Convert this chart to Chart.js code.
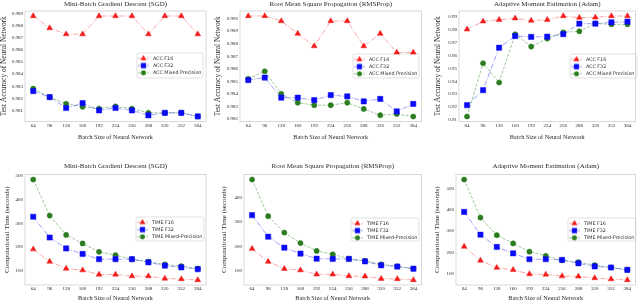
<!DOCTYPE html>
<html><head><meta charset="utf-8">
<script src="https://cdn.jsdelivr.net/npm/chart.js@4.4.1/dist/chart.umd.min.js"></script>
<style>
html,body{margin:0;padding:0;background:#fff;width:640px;height:304px;overflow:hidden}
.p{position:absolute}
</style></head><body>
<script>
// ---------------- DATA ----------------
const batchSizes = ["64","96","128","160","192","224","256","288","320","352","384"];

const sgdAccF16   = [0.9888, 0.9878, 0.9873, 0.9873, 0.9888, 0.9888, 0.9888, 0.9873, 0.9888, 0.9888, 0.9873];
const sgdAccF32   = [0.9826, 0.9821, 0.9812, 0.9816, 0.9810, 0.9812, 0.9810, 0.9806, 0.9808, 0.9808, 0.9805];
const sgdAccMixed = [0.9828, 0.9821, 0.98155, 0.9813, 0.98115, 0.98133, 0.98115, 0.9808, 0.9808, 0.9808, 0.9805];

const rmsAccF16   = [0.9902, 0.9902, 0.9898, 0.9888, 0.9878, 0.9898, 0.9898, 0.9878, 0.9888, 0.9873, 0.9873];
const rmsAccF32   = [0.9851, 0.9853, 0.9837, 0.9837, 0.9835, 0.9839, 0.9838, 0.9834, 0.9836, 0.9826, 0.9832];
const rmsAccMixed = [0.9852, 0.9858, 0.9840, 0.9833, 0.9831, 0.9831, 0.9833, 0.9828, 0.9823, 0.9824, 0.9822];

const adamAccF16   = [0.9804, 0.9866, 0.9879, 0.9890, 0.9872, 0.9879, 0.9908, 0.9895, 0.9897, 0.9908, 0.9908];
const adamAccF32   = [0.9213, 0.9330, 0.9661, 0.9752, 0.9745, 0.9747, 0.9766, 0.9848, 0.9848, 0.9859, 0.9864];
const adamAccMixed = [0.9125, 0.9540, 0.9390, 0.9766, 0.9670, 0.9732, 0.9781, 0.9789, 0.9851, 0.9843, 0.9843];

const sgdTimeF16   = [191, 139, 110, 103, 85, 85, 78, 78, 68, 66, 62];
const sgdTimeF32   = [327, 240, 194, 171, 149, 149, 149, 136, 122, 115, 107];
const sgdTimeMixed = [483, 332, 251, 215, 180, 166, 149, 139, 127, 120, 110];

const rmsTimeF16   = [191, 138, 109, 103, 86, 86, 79, 78, 68, 67, 63];
const rmsTimeF32   = [328, 240, 195, 171, 150, 149, 149, 139, 123, 118, 109];
const rmsTimeMixed = [474, 324, 257, 214, 182, 168, 150, 141, 127, 119, 109];

const adamTimeF16   = [227, 161, 127, 117, 97, 95, 87, 86, 78, 73, 69];
const adamTimeF32   = [391, 283, 225, 195, 167, 167, 164, 148, 133, 128, 117];
const adamTimeMixed = [544, 364, 281, 242, 203, 183, 162, 153, 139, 128, 117];

const sgdAccTicks  = [0.981, 0.982, 0.983, 0.984, 0.985, 0.986, 0.987, 0.988, 0.989];
const rmsAccTicks  = [0.982, 0.983, 0.984, 0.985, 0.986, 0.987, 0.988, 0.989, 0.990];
const adamAccTicks = [0.91, 0.92, 0.93, 0.94, 0.95, 0.96, 0.97, 0.98, 0.99];
const sgdTimeTicks  = [100, 200, 300, 400, 500];
const rmsTimeTicks  = [100, 200, 300, 400];
const adamTimeTicks = [100, 200, 300, 400, 500];

const accLabels  = ["ACC F16", "ACC F32", "ACC Mixed Precision"];
const timeLabels = ["TIME F16", "TIME F32", "TIME Mixed-Precision"];
const titles = ["Mini-Batch Gradient Descent (SGD)", "Root Mean Square Propagation (RMSProp)", "Adaptive Moment Estimation (Adam)"];
const xTitle = "Batch Size of Neural Network";
const accYTitle = "Test Accuracy of Neural Network";
const timeYTitle = "Computational Time (seconds)";

// ---------------- STYLE ----------------
const SERIF = "'Liberation Serif', 'Times New Roman', serif";
const SANS = "'DejaVu Sans', sans-serif";
const TXT = '#2a2a2a';
const seriesStyle = [
  {color: '#f21c1c', line: 'rgba(242,60,60,0.45)', dash: [5,1.5,1,1.5], shape: 'triangle', r: 3.3},
  {color: '#0a0af5', line: 'rgba(40,40,250,0.45)', dash: [5,1.5,1,1.5], shape: 'rect', r: 3.7},
  {color: '#2b7d1f', line: 'rgba(60,150,50,0.5)', dash: [3,1.5], shape: 'circle', r: 2.6}
];

function icon(st) {
  const c = document.createElement('canvas');
  c.width = 11; c.height = 8;
  const g = c.getContext('2d');
  g.strokeStyle = st.line; g.lineWidth = 1; g.setLineDash(st.dash);
  g.beginPath(); g.moveTo(0, 4); g.lineTo(11, 4); g.stroke();
  g.setLineDash([]);
  g.fillStyle = st.color; g.strokeStyle = st.color; g.lineWidth = 0.5;
  Chart.helpers.drawPoint(g, {pointStyle: st.shape, radius: st.r * 0.9, borderWidth: 0.5, rotation: 0}, 5.5, 4);
  return c;
}
const icons = seriesStyle.map(icon);

const framePlugin = {
  id: 'frameAndLegend',
  afterLayout(chart, args, o) {
    const lg = chart.legend, f = o.box;
    if (!lg || !f) return;
    lg.left = f.x - 2.9; lg.top = f.y + 0.6;
    lg.width = 120; lg.height = 60;
    lg.right = lg.left + 120; lg.bottom = lg.top + 60;
  },
  beforeDraw(chart, args, o) {
    const ctx = chart.ctx, f = o.box;
    ctx.save();
    ctx.fillStyle = 'rgba(255,255,255,0.9)';
    ctx.strokeStyle = '#d4d4d4'; ctx.lineWidth = 0.7;
    ctx.beginPath();
    ctx.roundRect(f.x, f.y, f.w, f.h, 1.5);
    ctx.fill(); ctx.stroke();
    ctx.restore();
  },
  beforeDatasetsDraw(chart) {
    const a = chart.chartArea, ctx = chart.ctx;
    ctx.save();
    ctx.strokeStyle = '#cfcfcf'; ctx.lineWidth = 0.8;
    ctx.strokeRect(a.left, a.top, a.right - a.left, a.bottom - a.top);
    ctx.restore();
  }
};

function makePanel(p) {
  const div = document.createElement('div');
  div.className = 'p';
  div.style.left = p.cx + 'px'; div.style.top = p.cy + 'px';
  div.style.width = p.cw + 'px'; div.style.height = p.ch + 'px';
  const cv = document.createElement('canvas');
  cv.width = p.cw; cv.height = p.ch;
  div.appendChild(cv); document.body.appendChild(div);

  const lo = Math.min(...p.series.flat()), hi = Math.max(...p.series.flat());
  const m = (hi - lo) * 0.05;
  const yW = p.pl - p.cx;
  const padR = p.cx + p.cw - p.pr;
  const xH = p.cy + p.ch - p.pb;
  const titleTop = p.titleY - p.cy - 4.2;
  const titleBottom = (p.pt - p.cy) - titleTop - 8.4;

  new Chart(cv, {
    type: 'line',
    data: {
      labels: batchSizes,
      datasets: p.series.map((vals, i) => {
        const st = seriesStyle[i];
        return {
          label: p.labels[i], data: vals,
          borderColor: st.line, borderWidth: 1, borderDash: st.dash,
          backgroundColor: st.color,
          pointStyle: st.shape, pointRadius: st.r, pointBorderWidth: 0.5,
          pointBackgroundColor: st.color, pointBorderColor: st.color,
          tension: 0, fill: false
        };
      })
    },
    options: {
      responsive: false, animation: false, devicePixelRatio: 1,
      layout: {padding: {left: 0, right: padR, top: 0, bottom: 0}},
      plugins: {
        tooltip: {enabled: false},
        title: {display: true, text: p.title, fullSize: false, color: TXT,
                font: {family: SERIF, size: 7, weight: 'normal'},
                padding: {top: titleTop, bottom: titleBottom}},
        legend: {
          display: true, position: 'chartArea', align: 'start',
          labels: {
            color: TXT, font: {family: SANS, size: 4.8},
            usePointStyle: true, pointStyleWidth: 14, padding: 2.4,
            generateLabels: (chart) => chart.data.datasets.map((d, i) => ({
              text: d.label, pointStyle: icons[i], fillStyle: d.backgroundColor,
              strokeStyle: d.backgroundColor, lineWidth: 0, hidden: false, datasetIndex: i, fontColor: TXT
            }))
          }
        },
        frameAndLegend: {box: {x: p.lg[0] - p.cx, y: p.lg[1] - p.cy, w: p.lg[2], h: p.lg[3]}}
      },
      scales: {
        x: {
          type: 'category', offset: true,
          grid: {display: false, drawTicks: false}, border: {display: false},
          ticks: {color: TXT, font: {family: SERIF, size: 5}, padding: p.xtp, maxRotation: 0, autoSkip: false},
          title: {display: true, text: xTitle, color: TXT, font: {family: SERIF, size: 6.2},
                  padding: {top: 0, bottom: p.xtb}},
          afterFit: (s) => { s.height = xH; }
        },
        y: {
          type: 'linear', min: lo - m, max: hi + m,
          grid: {display: false, drawTicks: false}, border: {display: false},
          ticks: {color: TXT, font: {family: SERIF, size: 5}, padding: 2,
                  callback: (v) => v.toFixed(p.dec)},
          afterBuildTicks: (s) => { s.ticks = p.ticks.map(v => ({value: v})); },
          title: {display: true, text: p.ytitle, color: TXT, font: {family: SERIF, size: p.yts},
                  padding: {top: p.ytp, bottom: 0}},
          afterFit: (s) => { s.width = yW; }
        }
      }
    },
    plugins: [framePlugin]
  });
}

const panels = [
  {cx: 0, cy: 0, cw: 213, ch: 152, pl: 25, pr: 206, pt: 11, pb: 121.5, titleY: 4.5,
   series: [sgdAccF16, sgdAccF32, sgdAccMixed], labels: accLabels, title: titles[0],
   ticks: sgdAccTicks, dec: 3, ytitle: accYTitle, yts: 7.4, ytp: 0.1, xtp: 1.5, xtb: 11.4, lg: [137, 53, 66, 25]},
  {cx: 213, cy: 0, cw: 213, ch: 152, pl: 240, pr: 423, pt: 11, pb: 121.5, titleY: 4.5,
   series: [rmsAccF16, rmsAccF32, rmsAccMixed], labels: accLabels, title: titles[1],
   ticks: rmsAccTicks, dec: 3, ytitle: accYTitle, yts: 7.4, ytp: 1.1, xtp: 1.5, xtb: 11.4, lg: [353, 54, 66, 24]},
  {cx: 426, cy: 0, cw: 214, ch: 152, pl: 459, pr: 638, pt: 11, pb: 121.5, titleY: 4.5,
   series: [adamAccF16, adamAccF32, adamAccMixed], labels: accLabels, title: titles[2],
   ticks: adamAccTicks, dec: 2, ytitle: accYTitle, yts: 7.4, ytp: 7.3, xtp: 1.5, xtb: 11.4, lg: [570, 54, 67, 24]},
  {cx: 0, cy: 152, cw: 213, ch: 152, pl: 25, pr: 206, pt: 174.5, pb: 285, titleY: 166,
   series: [sgdTimeF16, sgdTimeF32, sgdTimeMixed], labels: timeLabels, title: titles[0],
   ticks: sgdTimeTicks, dec: 0, ytitle: timeYTitle, yts: 7, ytp: 2.5, xtp: 1, xtb: 1.9, lg: [136, 217, 68, 24]},
  {cx: 213, cy: 152, cw: 213, ch: 152, pl: 244, pr: 422, pt: 174.5, pb: 285, titleY: 166,
   series: [rmsTimeF16, rmsTimeF32, rmsTimeMixed], labels: timeLabels, title: titles[1],
   ticks: rmsTimeTicks, dec: 0, ytitle: timeYTitle, yts: 7, ytp: 6.5, xtp: 1, xtb: 1.9, lg: [351, 218, 68, 23]},
  {cx: 426, cy: 152, cw: 214, ch: 152, pl: 456, pr: 637.5, pt: 174.5, pb: 285, titleY: 166,
   series: [adamTimeF16, adamTimeF32, adamTimeMixed], labels: timeLabels, title: titles[2],
   ticks: adamTimeTicks, dec: 0, ytitle: timeYTitle, yts: 7, ytp: 7, xtp: 1, xtb: 1.9, lg: [568, 218, 68, 23]}
];
panels.forEach(makePanel);
</script>
</body></html>
